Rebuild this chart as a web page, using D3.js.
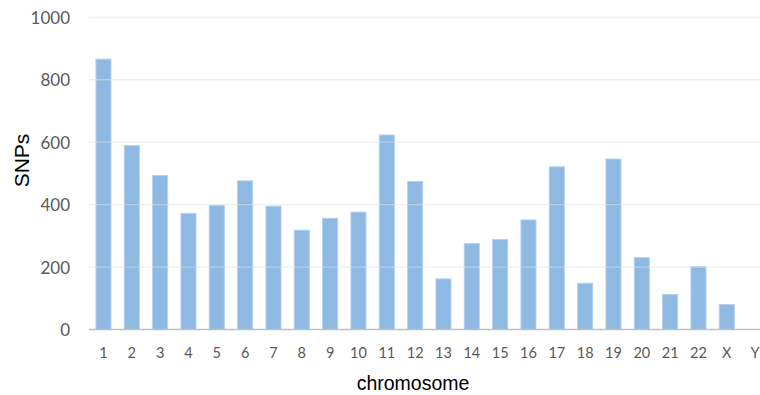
<!DOCTYPE html>
<html><head><meta charset="utf-8">
<script src="https://cdn.jsdelivr.net/npm/d3@7"></script>
<style>body{margin:0;background:#fff}svg{display:block}</style>
</head><body>
<svg id="c" width="760" height="395"></svg>
<script>
const chromosomes = ["1","2","3","4","5","6","7","8","9","10","11","12","13","14","15","16","17","18","19","20","21","22","X","Y"];
const snps = [866,589,493,372,398,476,395,318,356,376,623,474,162,275,288,351,521,148,546,230,112,201,80,0];
const yTicks = [0,200,400,600,800,1000];

const svg = d3.select("#c");
const x = d3.scaleBand().domain(chromosomes).range([89.3, 769.3]).paddingInner(0.47).paddingOuter(0.235);
const y = d3.scaleLinear().domain([0,1000]).range([329.5, 17.3]);

// bars
svg.append("g").selectAll("rect").data(chromosomes).join("rect")
  .attr("x", d => x(d)).attr("width", x.bandwidth())
  .attr("y", (d,i) => y(snps[i])).attr("height", (d,i) => y(0) - y(snps[i]))
  .attr("fill", "#8db9e2").attr("stroke", "#b3d0ee").attr("stroke-width", 1);

// gridlines (on top, translucent)
svg.append("g").selectAll("line").data(yTicks.filter(t => t > 0)).join("line")
  .attr("x1", 89).attr("x2", 760)
  .attr("y1", d => y(d)).attr("y2", d => y(d))
  .attr("stroke", "rgba(225,225,225,0.5)").attr("stroke-width", 1.3);

// y axis labels
const yAxis = d3.axisLeft(y).tickValues(yTicks).tickFormat(d3.format("d")).tickSize(0).tickPadding(0);
const gy = svg.append("g").attr("transform", "translate(70,0)").call(yAxis);
gy.select(".domain").remove();
gy.selectAll("text").attr("font-family", "Lato, 'Open Sans', sans-serif").attr("font-size", 17).attr("fill", "#595959").attr("dy", "0.36em");

// x axis
const xAxis = d3.axisBottom(x).tickSize(0).tickPadding(0);
const gx = svg.append("g").attr("transform", "translate(0,329.5)").call(xAxis);
gx.select(".domain").remove();
gx.selectAll("text").attr("font-family", "Lato, 'Open Sans', sans-serif").attr("font-size", 14.5).attr("fill", "#595959").attr("y", 18).attr("dy", "0.71em");
svg.append("line").attr("x1", 89).attr("x2", 760).attr("y1", y(0)).attr("y2", y(0))
  .attr("stroke", "#bfbfbf").attr("stroke-width", 1.5);

// axis titles
svg.append("text").attr("x", 413).attr("y", 390).attr("text-anchor", "middle")
  .attr("font-family", "'Liberation Sans', Arial, sans-serif").attr("font-size", 19.5).attr("fill", "#000").text("chromosome");
svg.append("text").attr("transform", "translate(28.5,160.5) rotate(-90)").attr("text-anchor", "middle")
  .attr("font-family", "'Liberation Sans', Arial, sans-serif").attr("font-size", 21).attr("fill", "#000").text("SNPs");
</script>
</body></html>
